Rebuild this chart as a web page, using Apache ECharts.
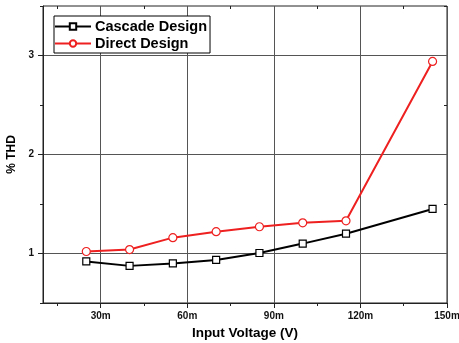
<!DOCTYPE html>
<html>
<head>
<meta charset="utf-8">
<script src="https://cdn.jsdelivr.net/npm/echarts@6/dist/echarts.min.js"></script>
<style>
  html, body { margin: 0; padding: 0; background: #fff; }
  #chart { width: 459px; height: 343px; }
</style>
</head>
<body>
<div id="chart"></div>
<script>
// input voltage (mV) and %THD values
const voltages = [25, 40, 55, 70, 85, 100, 115, 145];
const cascadeThd = [0.92, 0.875, 0.90, 0.935, 1.005, 1.10, 1.20, 1.45];
const directThd = [1.02, 1.04, 1.16, 1.22, 1.27, 1.31, 1.33, 2.94];
const xMajorTicks = [30, 60, 90, 120, 150];
const xMinorTicks = [15, 45, 75, 105, 135];
const yMajorTicks = [1, 2, 3];
const yMinorTicks = [0.5, 1.5, 2.5, 3.5];

const font = "Liberation Sans, Arial, sans-serif";
const pairs = (ys) => voltages.map((v, i) => [v, ys[i]]);

let chart = echarts.init(document.getElementById("chart"));
let option = {
  animation: false,
  grid: {
    left: 43, right: 12, top: 6, bottom: 40,
    outerBoundsMode: "none", containLabel: false,
    show: true, borderColor: "#222", borderWidth: 1,
  },
  legend: {
    orient: "vertical",
    left: 54, top: 16,
    itemWidth: 36, itemHeight: 8, itemGap: 2,
    padding: [3, 3, 2, 0],
    backgroundColor: "#fff",
    borderColor: "#000", borderWidth: 1,
    textStyle: { fontFamily: font, fontWeight: "bold", fontSize: 14.5, color: "#000", padding: [0, 0, 0, -1] },
  },
  xAxis: [
    {
      type: "value", min: 10, max: 150, position: "bottom",
      name: "Input Voltage (V)", nameLocation: "middle", nameGap: 23,
      nameTextStyle: { fontFamily: font, fontWeight: "bold", fontSize: 13.5, color: "#000" },
      axisLine: { show: true, lineStyle: { color: "#222" } },
      axisTick: { show: true, length: 5, customValues: xMajorTicks, lineStyle: { color: "#222" } },
      axisLabel: {
        customValues: xMajorTicks, margin: 8,
        fontFamily: font, fontWeight: "bold", fontSize: 10, color: "#111",
        formatter: (v) => v + "m",
      },
      splitLine: { show: true, lineStyle: { color: "#555", width: 1 } },
    },
    {
      type: "value", min: 10, max: 150, position: "bottom",
      axisLine: { show: false },
      axisTick: { show: true, length: 3, customValues: xMinorTicks, lineStyle: { color: "#222" } },
      axisLabel: { show: false },
      splitLine: { show: false },
    },
    {
      type: "value", min: 10, max: 150, position: "top",
      axisLine: { show: false },
      axisTick: { show: true, inside: true, length: 3, customValues: xMinorTicks, lineStyle: { color: "#222" } },
      axisLabel: { show: false },
      splitLine: { show: false },
    },
  ],
  yAxis: [
    {
      type: "value", min: 0.5, max: 3.5, position: "left",
      name: "% THD", nameLocation: "middle", nameGap: 23, nameRotate: 90,
      nameTextStyle: { fontFamily: font, fontWeight: "bold", fontSize: 12, color: "#000" },
      axisLine: { show: true, lineStyle: { color: "#222" } },
      axisTick: { show: true, length: 5, customValues: yMajorTicks, lineStyle: { color: "#222" } },
      axisLabel: {
        customValues: yMajorTicks, margin: 9,
        fontFamily: font, fontWeight: "bold", fontSize: 10, color: "#111",
      },
      splitLine: { show: true, lineStyle: { color: "#555", width: 1 } },
    },
    {
      type: "value", min: 0.5, max: 3.5, position: "left",
      axisLine: { show: false },
      axisTick: { show: true, length: 3, customValues: yMinorTicks, lineStyle: { color: "#222" } },
      axisLabel: { show: false },
      splitLine: { show: false },
    },
    {
      type: "value", min: 0.5, max: 3.5, position: "right",
      axisLine: { show: false },
      axisTick: { show: true, inside: true, length: 3, customValues: yMinorTicks, lineStyle: { color: "#222" } },
      axisLabel: { show: false },
      splitLine: { show: false },
    },
  ],
  series: [
    {
      name: "Cascade Design",
      type: "line",
      data: pairs(cascadeThd),
      symbol: "rect", symbolSize: 7, showAllSymbol: true,
      lineStyle: { color: "#000", width: 2 },
      itemStyle: { color: "#fff", borderColor: "#000", borderWidth: 1.2 },
      z: 3,
    },
    {
      name: "Direct Design",
      type: "line",
      data: pairs(directThd),
      symbol: "circle", symbolSize: 8, showAllSymbol: true,
      lineStyle: { color: "#ee2020", width: 2 },
      itemStyle: { color: "#fff", borderColor: "#ee2020", borderWidth: 1.2 },
      z: 3,
    },
  ],
};
chart.setOption(option);
</script>
</body>
</html>
